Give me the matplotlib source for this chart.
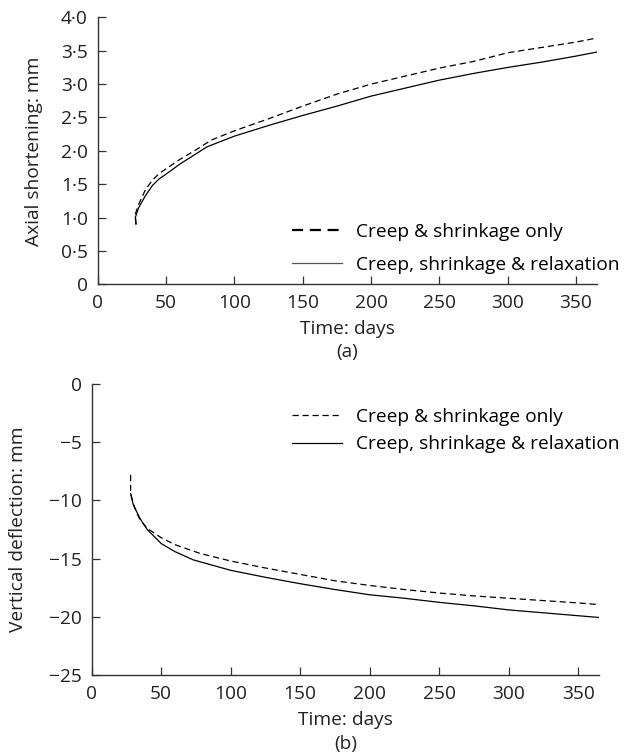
import matplotlib
matplotlib.use("Agg")
import matplotlib.pyplot as plt
from matplotlib.ticker import FuncFormatter

plt.rcParams['font.family'] = ['Open Sans', 'DejaVu Sans']
plt.rcParams['font.size'] = 13.8

# (a) axial shortening, mm
dias_a_cs = [28, 27.5, 30, 35, 40, 45, 50, 60, 70, 83, 100, 125, 150, 175, 200, 225, 250, 275, 300, 325, 350, 365]
acort_cs = [0.9, 1.05, 1.2, 1.42, 1.56, 1.66, 1.73, 1.87, 1.99, 2.16, 2.3, 2.48, 2.67, 2.85, 3.0, 3.12, 3.24, 3.34, 3.47, 3.55, 3.63, 3.69]
dias_a_csr = [28, 27.5, 30, 35, 40, 45, 50, 60, 70, 80, 100, 125, 150, 175, 200, 225, 250, 275, 300, 325, 350, 365]
acort_csr = [0.9, 1.0, 1.15, 1.33, 1.48, 1.58, 1.65, 1.8, 1.93, 2.06, 2.22, 2.38, 2.53, 2.67, 2.82, 2.94, 3.06, 3.16, 3.25, 3.33, 3.42, 3.48]

# (b) vertical deflection, mm
dias_b_cs = [28, 28, 30, 32.5, 35, 40, 50, 60, 78, 100, 125, 150, 175, 200, 225, 250, 275, 300, 325, 350, 365]
defl_cs = [-7.8, -9.4, -10.3, -11.1, -11.7, -12.4, -13.2, -13.8, -14.55, -15.2, -15.8, -16.35, -16.9, -17.3, -17.65, -17.95, -18.2, -18.4, -18.6, -18.8, -18.95]
dias_b_csr = [28, 30, 35, 40, 50, 60, 73, 100, 125, 150, 175, 200, 225, 250, 275, 300, 325, 350, 365]
defl_csr = [-9.4, -10.4, -11.6, -12.5, -13.7, -14.4, -15.1, -16.0, -16.6, -17.15, -17.65, -18.1, -18.4, -18.75, -19.05, -19.4, -19.65, -19.9, -20.05]

etiquetas = ["Creep & shrinkage only", "Creep, shrinkage & relaxation"]

fig = plt.figure(figsize=(6.28, 7.56), dpi=100)
ax1 = fig.add_axes([0.1556, 0.624, 0.7944, 0.353])
ax2 = fig.add_axes([0.146, 0.107, 0.808, 0.385])

def estilo(ax, xlab_y, sub, sub_y, ylab_x):
    for lado in ["top", "right"]:
        ax.spines[lado].set_visible(False)
    for lado in ["left", "bottom"]:
        ax.spines[lado].set_color("#333333")
        ax.spines[lado].set_linewidth(1.0)
    ax.tick_params(direction="in", length=6, width=0.9, color="#333333", pad=7, labelcolor="#222222")
    ax.set_xlim(0, 365)
    ax.set_xticks(range(0, 351, 50))
    # etiquetas de ejes
    ax.set_xlabel("Time: days", color="#222222")
    ax.xaxis.label.set_va("baseline")
    ax.xaxis.set_label_coords(0.5, xlab_y)
    ax.text(0.5, sub_y, sub, transform=ax.transAxes, ha="center", va="baseline", color="#222222")
    ax.yaxis.label.set_va("center")
    ax.yaxis.label.set_color("#222222")
    ax.yaxis.set_label_coords(ylab_x, 0.5)

# grafica (a)
ax1.plot(dias_a_cs, acort_cs, color="black", lw=0.9, ls=(0, (5, 3)), label=etiquetas[0])
ax1.plot(dias_a_csr, acort_csr, color="black", lw=0.9, label=etiquetas[1])
ax1.set_ylabel("Axial shortening: mm")
estilo(ax1, -0.186, "(a)", -0.271, -0.128)
ax1.set_ylim(0, 4.0)
ax1.set_yticks([0, 0.5, 1.0, 1.5, 2.0, 2.5, 3.0, 3.5, 4.0])
ax1.yaxis.set_major_formatter(FuncFormatter(lambda v, p: "0" if v == 0 else f"{v:.1f}".replace(".", "·")))
leg1 = ax1.legend(loc="upper left", bbox_to_anchor=(0.39, 0.229), frameon=False,
                  handlelength=2.6, handletextpad=0.75, labelspacing=0.75,
                  borderpad=0, borderaxespad=0)
leg1.get_lines()[0].set_linewidth(1.6)
leg1.get_lines()[1].set_color("#555555")

# grafica (b)
ax2.plot(dias_b_cs, defl_cs, color="black", lw=0.9, ls=(0, (5, 3)), label=etiquetas[0])
ax2.plot(dias_b_csr, defl_csr, color="black", lw=0.9, label=etiquetas[1])
ax2.set_ylabel("Vertical deflection: mm")
estilo(ax2, -0.172, "(b)", -0.254, -0.145)
ax2.set_ylim(-25, 0)
ax2.set_yticks([-25, -20, -15, -10, -5, 0])
ax2.legend(loc="upper left", bbox_to_anchor=(0.395, 0.918), frameon=False,
           handlelength=2.6, handletextpad=0.75, labelspacing=0.5,
           borderpad=0, borderaxespad=0)

plt.savefig("out.png", dpi=100)
